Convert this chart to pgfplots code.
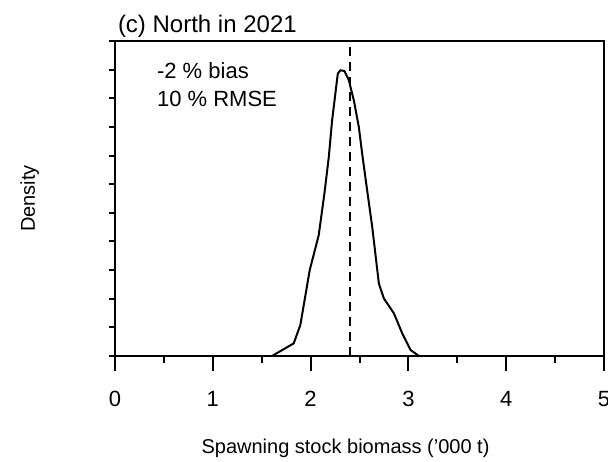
\documentclass[border=0pt]{standalone}
\usepackage{pgfplots}
\pgfplotsset{compat=1.18}
\usepackage{fontspec}
\setmainfont{Liberation Sans}
\begin{document}
\begin{tikzpicture}
\begin{axis}[
  scale only axis,
  width=244.5pt, height=157.5pt,
  xmin=0, xmax=5, ymin=0, ymax=11,
  every axis/.append style={line width=1pt},
  xtick={0,1,2,3,4,5},
  minor xtick={0.5,1.5,2.5,3.5,4.5},
  ytick=\empty,
  extra y ticks={0,1,2,3,4,5,6,7,8,9,10,11},
  extra y tick labels={},
  extra y tick style={major tick length=3.25pt, ytick pos=left, tick align=outside},
  tick align=outside,
  major tick length=7.5pt,
  minor tick length=3.25pt,
  every tick/.style={black, line width=1pt},
  xtick pos=bottom, ytick pos=left,
  /pgf/number format/assume math mode=true,
  xticklabel style={font=\fontsize{11}{13}\selectfont, anchor=base, yshift=-17.5pt},
  clip=false,
]
\coordinate (O) at (rel axis cs:0,0);
\addplot[black, line width=1pt, line join=round] coordinates {
(1.605,0) (1.827,0.44) (1.895,1.08) (1.991,3.00) (2.083,4.22) (2.141,5.67)
(2.186,6.95) (2.220,8.23) (2.278,9.86) (2.305,9.98) (2.346,9.95) (2.391,9.63)
(2.442,8.93) (2.493,8.00) (2.527,7.07) (2.578,5.79) (2.630,4.51) (2.698,2.53)
(2.749,2.01) (2.852,1.49) (2.937,0.79) (3.022,0.21) (3.108,0)
};
\addplot[black, line width=1pt, dash pattern=on 4.5pt off 3pt] coordinates {(2.40,0) (2.40,11)};
\node[anchor=base west, font=\fontsize{11}{13}\selectfont, inner sep=0pt] at (axis cs:0.42,9.70) {-2 \% bias};
\node[anchor=base west, font=\fontsize{11}{13}\selectfont, inner sep=0pt] at (axis cs:0.42,8.72) {10 \% RMSE};
\node[anchor=base west, font=\fontsize{12}{14}\selectfont, inner sep=0pt] at ([xshift=1pt,yshift=4.5pt]rel axis cs:0,1) {(c) North in 2021};
\node[anchor=base, font=\fontsize{10}{12}\selectfont, inner sep=0pt] at ([yshift=-48.5pt]axis cs:2.357,0) {Spawning stock biomass ('000 t)};
\node[anchor=base, rotate=90, font=\fontsize{10}{12}\selectfont, inner sep=0pt] at ([xshift=-40pt]rel axis cs:0,0.5) {Density};
\end{axis}
\pgfresetboundingbox
\path (O) ++(-57.5pt,-52.5pt) rectangle ++(304pt,230.5pt);
\end{tikzpicture}
\end{document}
